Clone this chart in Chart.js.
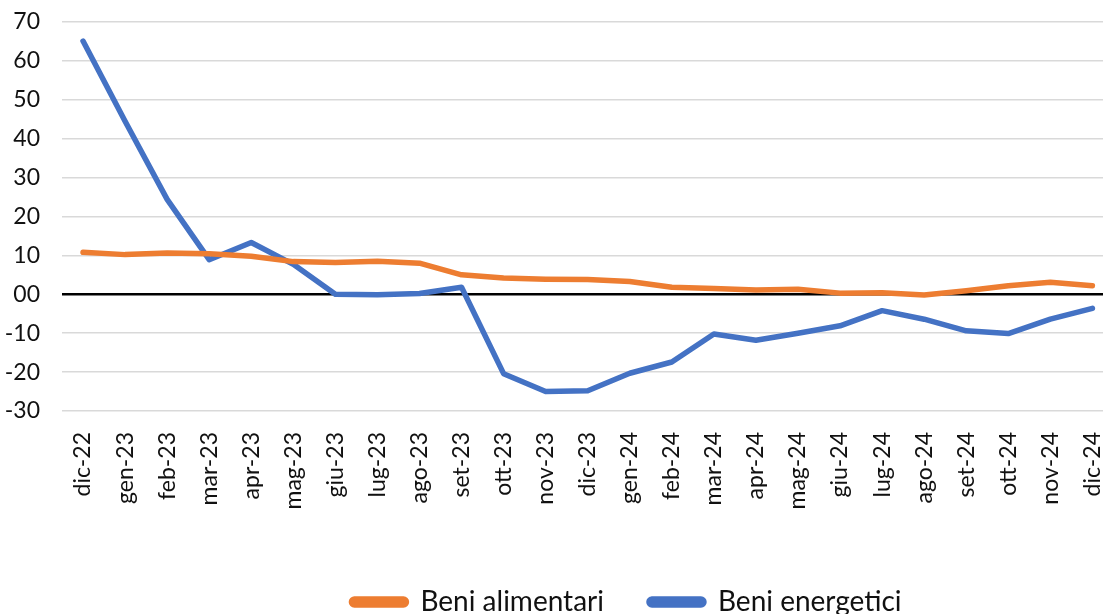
<!DOCTYPE html>
<html lang="it">
<head>
<meta charset="utf-8">
<title>Beni alimentari e beni energetici</title>
<script src="https://cdn.jsdelivr.net/npm/chart.js@4.4.1/dist/chart.umd.min.js"></script>
<style>
  html, body { margin: 0; padding: 0; background: #fff; overflow: hidden; }
  canvas { display: block; }
</style>
</head>
<body>
<canvas id="chart" width="1133" height="626"></canvas>
<script>
/* variazioni tendenziali: alimentari vs energetici, dic-22 .. dic-24 */

const FONT = 'Lato, "Open Sans", sans-serif';
const INK = '#111';
const GRID = '#d9d9d9';

const months = [
  'dic-22', 'gen-23', 'feb-23', 'mar-23', 'apr-23', 'mag-23', 'giu-23', 'lug-23', 'ago-23',
  'set-23', 'ott-23', 'nov-23', 'dic-23', 'gen-24', 'feb-24', 'mar-24', 'apr-24', 'mag-24',
  'giu-24', 'lug-24', 'ago-24', 'set-24', 'ott-24', 'nov-24', 'dic-24',
];

const alimentari = [
  10.8, 10.2, 10.6, 10.4, 9.8, 8.4, 8.2, 8.5, 8.0,
  5.0, 4.2, 3.9, 3.8, 3.3, 1.8, 1.5, 1.1, 1.3,
  0.3, 0.4, -0.2, 0.9, 2.2, 3.1, 2.2,
];

const energetici = [
  65.1, 44.5, 24.4, 8.9, 13.3, 7.7, 0.0, -0.1, 0.2,
  1.8, -20.4, -25.0, -24.8, -20.3, -17.4, -10.2, -11.8, -10.0,
  -8.1, -4.2, -6.4, -9.4, -10.1, -6.4, -3.6,
];

const yMin = -30;
const yMax = 70;
const yStep = 10;

// sposta la legenda come nell'originale (non centrata sul grafico)
const legendShift = {
  id: 'legendShift',
  afterLayout(chart) {
    const lg = chart.legend;
    if (!lg) return;
    lg.left += 60;
    lg.right += 60;
  },
};

function series(label, data, color) {
  return {
    label, data,
    borderColor: color, backgroundColor: color,
    borderWidth: 5.5, tension: 0, pointRadius: 0,
    borderCapStyle: 'round', borderJoinStyle: 'round',
  };
}

new Chart(document.getElementById('chart'), {
  type: 'line',
  data: {
    labels: months,
    datasets: [
      series('Beni alimentari', alimentari, '#ED7D31'),
      series('Beni energetici', energetici, '#4472C4'),
    ],
  },
  options: {
    responsive: false, animation: false,
    layout: { padding: { top: 22, right: 0, bottom: 0, left: 0 } },
    plugins: {
      tooltip: { enabled: false },
      legend: {
        position: 'bottom',
        labels: {
          color: INK, font: { family: FONT, size: 28 },
          boxWidth: 55, boxHeight: 6, padding: 45,
          useBorderRadius: true, borderRadius: 3,
        },
      },
    },
    scales: {
      x: {
        offset: true,
        grid: { display: false },
        border: { display: false },
        ticks: {
          color: INK, font: { family: FONT, size: 23 },
          autoSkip: false, maxRotation: 90, minRotation: 90, padding: 13,
        },
        afterFit: (s) => { s.height = 132; },
      },
      y: {
        min: yMin, max: yMax,
        border: { display: false },
        grid: {
          drawTicks: true, tickLength: 22, tickColor: 'rgba(0,0,0,0)',
          color: (c) => (c.tick && c.tick.value === 0 ? '#000' : GRID),
          lineWidth: (c) => (c.tick && c.tick.value === 0 ? 2.5 : 1.5),
        },
        ticks: {
          stepSize: yStep, color: INK, padding: 0,
          font: { family: FONT, size: 23 },
          callback: (v) => (v === 0 ? '00' : v),
        },
        afterFit: (s) => { s.width = 62; },
      },
    },
  },
  plugins: [legendShift],
});
</script>
</body>
</html>
